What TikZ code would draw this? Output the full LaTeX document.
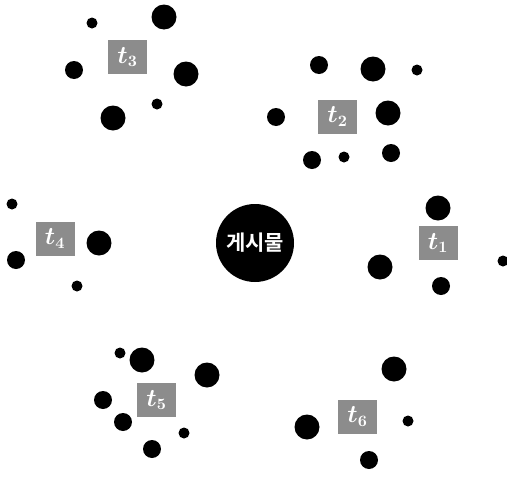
\documentclass[tikz,border=0pt]{standalone}
\usepackage{fontspec}
\usepackage{amsmath}
\usepackage{graphicx}
\newfontfamily\krfont{Noto Sans CJK KR}[BoldFont={* Bold}]
\newcommand{\tlab}[1]{\scalebox{1.45}{$\boldsymbol{t_{#1}}$}}
\begin{document}
\begin{tikzpicture}[x=1pt,y=-1pt,
  dotS/.style={circle,fill=black,inner sep=0pt,minimum size=11pt},
  dotM/.style={circle,fill=black,inner sep=0pt,minimum size=18pt},
  dotL/.style={circle,fill=black,inner sep=0pt,minimum size=25pt},
  tbox/.style={rectangle,fill=black!45,inner sep=0pt,minimum width=39pt,minimum height=34pt,text=white,font=\fontsize{16}{16}\selectfont},
  hub/.style={circle,fill=black,inner sep=0pt,minimum size=78pt,text=white,font=\krfont\bfseries\fontsize{21}{21}\selectfont}]
\useasboundingbox (0,0) rectangle (507,477);
% centre
\node[hub] (post) at (255,243) {게시물};
% t3
\node[tbox] (t3) at (127.5,57) {\tlab{3}};
\node[dotS] (a1) at (92,23) {};
\node[dotL] (a2) at (164,17) {};
\node[dotM] (a3) at (74,70) {};
\node[dotL] (a4) at (186,74) {};
\node[dotS] (a5) at (157,104) {};
\node[dotL] (a6) at (113,118) {};
% t2
\node[tbox] (t2) at (337.5,116.5) {\tlab{2}};
\node[dotM] (b1) at (319,65) {};
\node[dotL] (b2) at (373,69) {};
\node[dotS] (b3) at (417,70) {};
\node[dotM] (b4) at (276,117) {};
\node[dotL] (b5) at (388,113) {};
\node[dotM] (b6) at (312,160) {};
\node[dotS] (b7) at (344,157) {};
\node[dotM] (b8) at (391,153) {};
% t4
\node[tbox] (t4) at (55,238.5) {\tlab{4}};
\node[dotS] (c1) at (12,204) {};
\node[dotL] (c2) at (99,243) {};
\node[dotM] (c3) at (16,260) {};
\node[dotS] (c4) at (77,286) {};
% t1
\node[tbox] (t1) at (438,243) {\tlab{1}};
\node[dotL] (d1) at (438,208) {};
\node[dotL] (d2) at (380,267) {};
\node[dotS] (d3) at (503,261) {};
\node[dotM] (d4) at (441,286) {};
% t5
\node[tbox] (t5) at (156.5,400) {\tlab{5}};
\node[dotS] (e1) at (120,353) {};
\node[dotL] (e2) at (142,360) {};
\node[dotL] (e3) at (207,375) {};
\node[dotM] (e4) at (103,400) {};
\node[dotM] (e5) at (123,422) {};
\node[dotS] (e6) at (184,433) {};
\node[dotM] (e7) at (152,449) {};
% t6
\node[tbox] (t6) at (357.5,416.5) {\tlab{6}};
\node[dotL] (f1) at (394,369) {};
\node[dotL] (f2) at (307,427) {};
\node[dotS] (f3) at (408,421) {};
\node[dotM] (f4) at (369,460) {};
\end{tikzpicture}
\end{document}
